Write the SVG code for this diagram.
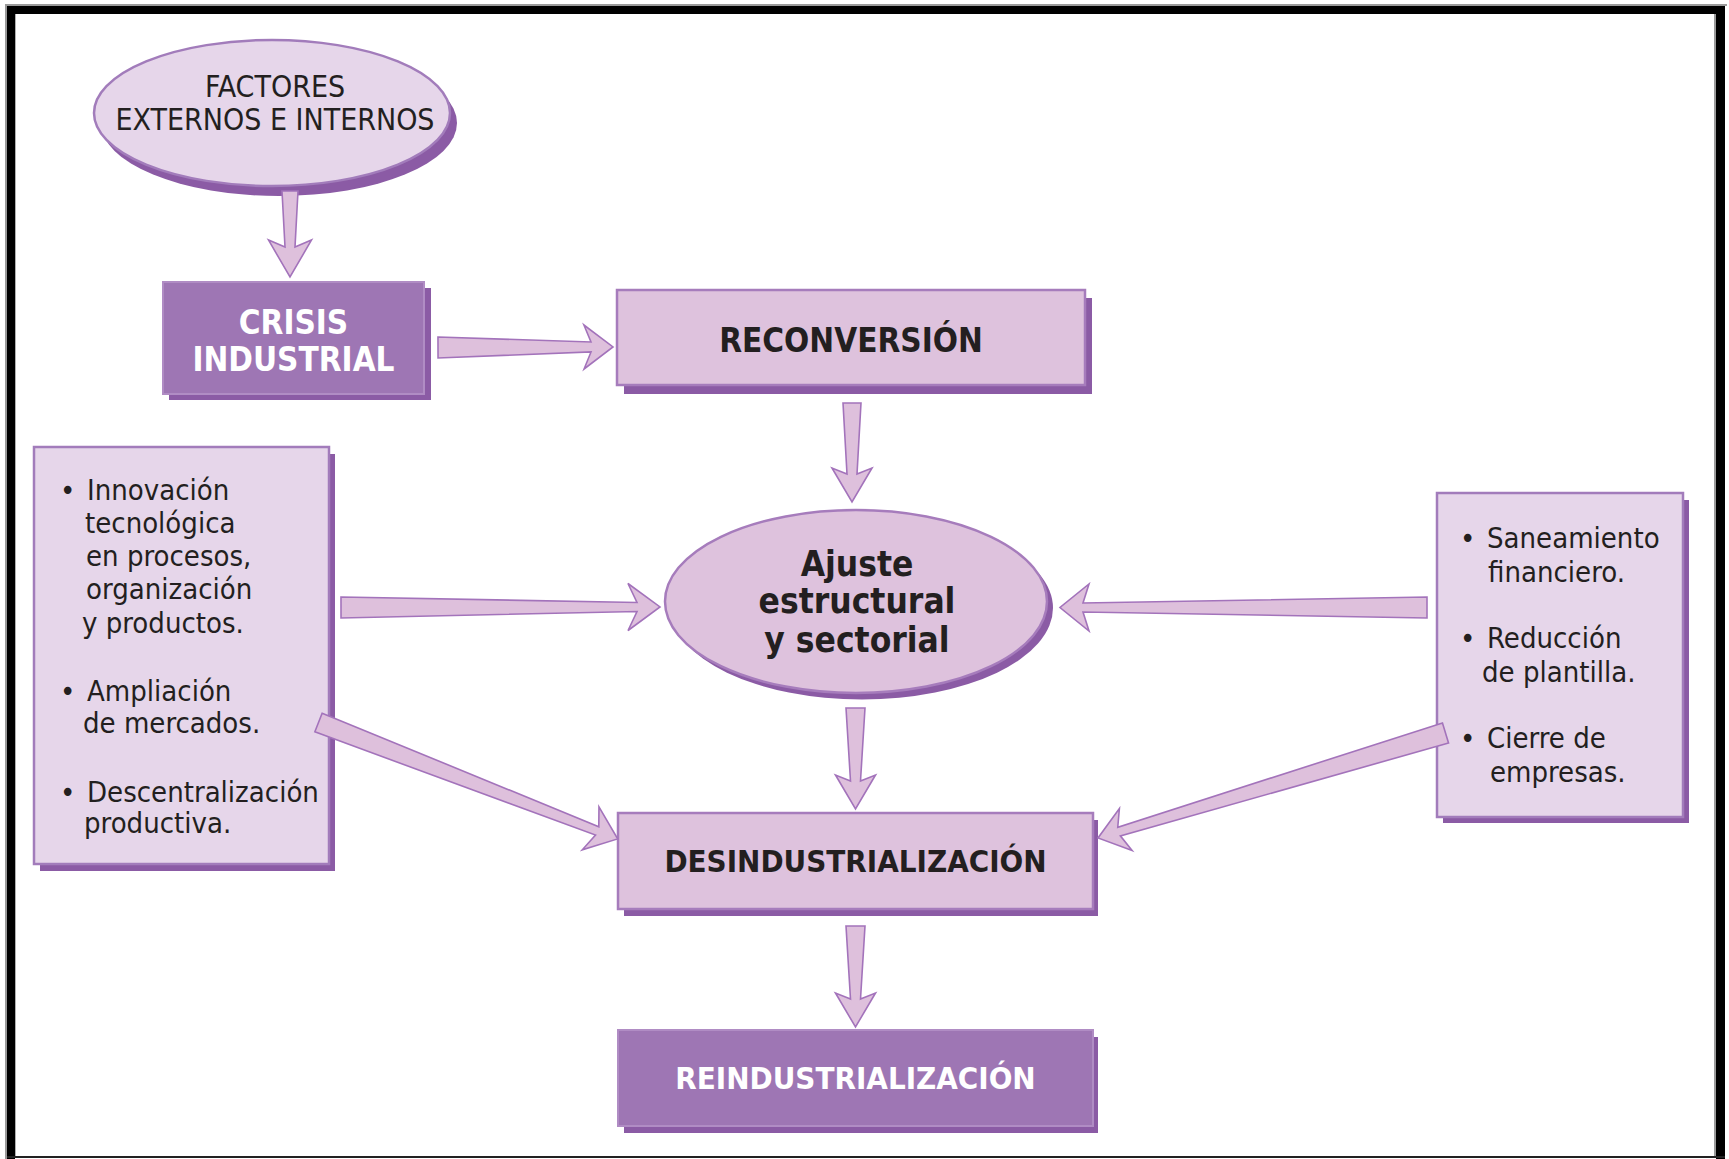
<svg xmlns="http://www.w3.org/2000/svg" width="1729" height="1159" viewBox="0 0 1729 1159">
<style>
.shadow{fill:#8b5ba5}
.light{fill:#dec2dd;stroke:#a67cbc;stroke-width:2.5}
.pale{fill:#e6d6ea;stroke:#a27cbb;stroke-width:2.5}
.dark{fill:#9e76b4;stroke:#b08cc4;stroke-width:2}
.arrow{fill:#dec0dc;stroke:#a373bb;stroke-width:1.6;stroke-linejoin:miter}
text{font-family:'DejaVu Sans Condensed','DejaVu Sans',sans-serif;font-stretch:condensed;fill:#231f20}
.reg{font-size:29px}
.hd{font-weight:bold;text-anchor:middle}
.w{fill:#ffffff}
.f{font-size:30px;text-anchor:middle}
</style>
<rect x="0" y="0" width="1729" height="1159" fill="#ffffff"/>
<g id="frame">
<rect x="5" y="4" width="1722" height="2" fill="#9a9a9a"/>
<rect x="5" y="6" width="2" height="1153" fill="#9a9a9a"/>
<rect x="15" y="14" width="1" height="1143" fill="#b0b0b0"/>
<rect x="1714" y="14" width="2" height="1143" fill="#9a9a9a"/>
<rect x="7" y="6" width="1718" height="8" fill="#000"/>
<rect x="7" y="6" width="8" height="1153" fill="#000"/>
<rect x="1716" y="6" width="9" height="1153" fill="#000"/>
<rect x="7" y="1156" width="1718" height="2" fill="#222"/>
</g>
<g id="factores">
<ellipse class="shadow" cx="279" cy="123" rx="178" ry="73"/>
<ellipse class="pale" cx="272" cy="113" rx="178" ry="73"/>
<text class="f" x="275" y="97">FACTORES</text>
<text class="f" x="275" y="130">EXTERNOS E INTERNOS</text>
</g>
<g id="crisis">
<rect class="shadow" x="169" y="288" width="262" height="112"/>
<rect class="dark" x="163" y="282" width="261" height="112"/>
<text class="hd w" x="293.5" y="334" font-size="33">CRISIS</text>
<text class="hd w" x="293.5" y="371" font-size="33">INDUSTRIAL</text>
</g>
<g id="reconversion">
<rect class="shadow" x="624" y="298" width="468" height="96"/>
<rect class="light" x="617" y="290" width="468" height="95"/>
<text class="hd" x="851" y="352" font-size="33">RECONVERSIÓN</text>
</g>
<g id="left-box">
<rect class="shadow" x="40" y="454" width="295" height="417"/>
<rect class="pale" x="34" y="447" width="295" height="417"/>
<text class="reg" y="500"><tspan x="60">•</tspan><tspan x="87">Innovación</tspan></text>
<text class="reg" x="85" y="533">tecnológica</text>
<text class="reg" x="86" y="566">en procesos,</text>
<text class="reg" x="86" y="599">organización</text>
<text class="reg" x="82" y="633">y productos.</text>
<text class="reg" y="701"><tspan x="60">•</tspan><tspan x="87">Ampliación</tspan></text>
<text class="reg" x="83" y="733">de mercados.</text>
<text class="reg" y="802"><tspan x="60">•</tspan><tspan x="87">Descentralización</tspan></text>
<text class="reg" x="84" y="833">productiva.</text>
</g>
<g id="right-box">
<rect class="shadow" x="1443" y="500" width="246" height="323"/>
<rect class="pale" x="1437" y="493" width="246" height="324"/>
<text class="reg" y="548"><tspan x="1460">•</tspan><tspan x="1487">Saneamiento</tspan></text>
<text class="reg" x="1488" y="582">financiero.</text>
<text class="reg" y="648"><tspan x="1460">•</tspan><tspan x="1487">Reducción</tspan></text>
<text class="reg" x="1482" y="682">de plantilla.</text>
<text class="reg" y="748"><tspan x="1460">•</tspan><tspan x="1487">Cierre de</tspan></text>
<text class="reg" x="1490" y="782">empresas.</text>
</g>
<g id="ajuste">
<ellipse class="shadow" cx="862" cy="608" rx="191" ry="91.5"/>
<ellipse class="light" cx="856" cy="601.5" rx="191" ry="91.5"/>
<text class="hd" x="857" y="576" font-size="35">Ajuste</text>
<text class="hd" x="857" y="613" font-size="35">estructural</text>
<text class="hd" x="857" y="652" font-size="35">y sectorial</text>
</g>
<g id="desindustrializacion">
<rect class="shadow" x="624" y="820" width="474" height="96"/>
<rect class="light" x="618" y="813" width="475" height="96"/>
<text class="hd" x="855.5" y="872" font-size="31">DESINDUSTRIALIZACIÓN</text>
</g>
<g id="reindustrializacion">
<rect class="shadow" x="624" y="1037" width="474" height="96"/>
<rect class="dark" x="618" y="1030" width="475" height="96"/>
<text class="hd w" x="855.5" y="1089" font-size="31">REINDUSTRIALIZACIÓN</text>
</g>
<g id="connectors">
<polygon class="arrow" transform="translate(290,191) rotate(90)" points="0,-8 56,-5 49,-21.5 86,0 49,21.5 56,5 0,8"/>
<polygon class="arrow" transform="translate(438,347.5) rotate(-0.2)" points="0,-10.5 153,-5 146,-22 175,0 146,22 153,5 0,10.5"/>
<polygon class="arrow" transform="translate(852,403) rotate(90)" points="0,-9 71,-5 65,-20 99,0 65,20 71,5 0,9"/>
<polygon class="arrow" transform="translate(341,607.5) rotate(-0.1)" points="0,-10.5 296,-4.5 287,-23.5 319,0 287,23.5 296,4.5 0,10.5"/>
<polygon class="arrow" transform="translate(1427,607.5) rotate(180)" points="0,-10.5 344,-4.5 338,-23.5 367,0 338,23.5 344,4.5 0,10.5"/>
<polygon class="arrow" transform="translate(855.5,708) rotate(90)" points="0,-9.5 73,-5 67,-20 101,0 67,20 73,5 0,9.5"/>
<polygon class="arrow" transform="translate(318.5,722.5) rotate(21.26)" points="0,-10 299,-4.5 292,-23 321,0 292,23 299,4.5 0,10"/>
<polygon class="arrow" transform="translate(1445.5,733) rotate(163.2)" points="0,-10.5 341,-4.5 334,-22 363,0 334,22 341,4.5 0,10.5"/>
<polygon class="arrow" transform="translate(855.5,926) rotate(90)" points="0,-9.5 73,-5 67,-20 101,0 67,20 73,5 0,9.5"/>
</g>
</svg>
